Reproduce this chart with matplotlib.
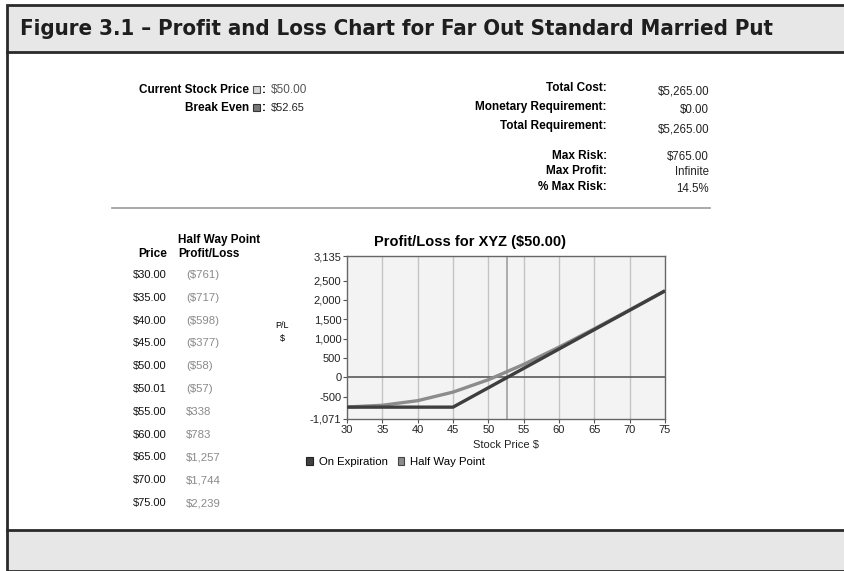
import matplotlib
matplotlib.use("Agg")
import matplotlib.pyplot as plt
from matplotlib import font_manager as fm
from matplotlib.patches import Rectangle, Patch
from matplotlib.lines import Line2D
from matplotlib.ticker import FuncFormatter

W, H = 845, 571

# data
prices = [30, 35, 40, 45, 50, 50.01, 55, 60, 65, 70, 75]
half_way_pl = [-761, -717, -598, -377, -58, -57, 338, 783, 1257, 1744, 2239]
expiration_pl = [-765, -765, -765, -765, -265, -264, 235, 735, 1235, 1735, 2235]
current_price = 50.00
break_even = 52.65
y_ticks = [-1071, -500, 0, 500, 1000, 1500, 2000, 2500, 3135]
x_ticks = [30, 35, 40, 45, 50, 55, 60, 65, 70, 75]

summary_labels = ["Total Cost:", "Monetary Requirement:", "Total Requirement:",
                  "Max Risk:", "Max Profit:", "% Max Risk:"]
summary_values = ["$5,265.00", "$0.00", "$5,265.00", "$765.00", "Infinite", "14.5%"]

plt.rcParams['font.family'] = ['Liberation Sans', 'DejaVu Sans']

# pick a narrow face for the header if one is installed
narrow = None
for f in fm.fontManager.ttflist:
    if 'Narrow' in f.name or 'Condensed' in f.name or f.stretch in ('condensed', 'semi-condensed'):
        if f.weight in ('bold', 700):
            narrow = f.fname
            break
title_font = fm.FontProperties(fname=narrow, weight='bold') if narrow else \
    fm.FontProperties(family='Liberation Sans', weight='bold')

fig = plt.figure(figsize=(W / 100, H / 100), dpi=100)


def fx(x):
    return x / W


def fy(y):
    return 1 - y / H


def txt(x, y, s, **kw):
    kw.setdefault('va', 'center')
    return fig.text(fx(x), fy(y), s, **kw)


# frame: header box, left border, bottom box
fig.patches.append(Rectangle((fx(7), fy(52)), fx(845 - 7), 47 / H, transform=fig.transFigure,
                             facecolor='#e6e7e6', edgecolor='#2a2a2a', lw=2))
fig.patches.append(Rectangle((fx(7), 0), fx(845 - 7), 41 / H, transform=fig.transFigure,
                             facecolor='#e6e7e6', edgecolor='#2a2a2a', lw=2))
fig.lines.append(Line2D([fx(7), fx(7)], [fy(52), fy(530)], transform=fig.transFigure,
                        color='#2a2a2a', lw=2))

head = txt(20, 29, "Figure 3.1 \u2013 Profit and Loss Chart for Far Out Standard Married Put",
           fontproperties=title_font, color='#1e1e1e')
head.set_fontsize(16.5)
r = fig.canvas.get_renderer()
w = head.get_window_extent(r).width
head.set_fontsize(min(16.5, 16.5 * 755 / w))

# top-left info
txt(249, 90, "Current Stock Price", ha='right', fontsize=8.5, weight='bold')
fig.patches.append(Rectangle((fx(253), fy(93)), 7 / W, 7 / H, transform=fig.transFigure,
                             facecolor='#d8d8d8', edgecolor='#555', lw=0.8))
txt(262, 90, ":", fontsize=8.5, weight='bold')
txt(271, 90, "$%.2f" % current_price, fontsize=8.5, color='#555')
txt(249, 108, "Break Even", ha='right', fontsize=8.5, weight='bold')
fig.patches.append(Rectangle((fx(253), fy(111)), 7 / W, 7 / H, transform=fig.transFigure,
                             facecolor='#777', edgecolor='#333', lw=0.8))
txt(262, 108, ":", fontsize=8.5, weight='bold')
txt(271, 108, "$%.2f" % break_even, fontsize=8, color='#222')

# top-right summary
label_y = [88, 107, 126, 156, 171, 187]
value_y = [91, 110, 129, 157, 172, 189]
for lab, val, ly, vy in zip(summary_labels, summary_values, label_y, value_y):
    txt(607, ly, lab, ha='right', fontsize=8.5, weight='bold')
    txt(709, vy, val, ha='right', fontsize=8.3, color='#222')

fig.lines.append(Line2D([fx(112), fx(710)], [fy(208), fy(208)], transform=fig.transFigure,
                        color='#9a9a9a', lw=1.2))

# left table
txt(178, 240, "Half Way Point", fontsize=8.5, weight='bold')
txt(138, 254, "Price", fontsize=8.5, weight='bold')
txt(178, 254, "Profit/Loss", fontsize=8.5, weight='bold')
for i, (p, v) in enumerate(zip(prices, half_way_pl)):
    y = 275 + i * 22.8
    txt(133, y, "$%.2f" % p, fontsize=8, color='#111')
    s = "(${:,})".format(-v) if v < 0 else "${:,}".format(v)
    txt(186, y, s, fontsize=8.2, color='#8a8a8a')

txt(282, 325, "P/L", ha='center', fontsize=6.5)
txt(282, 339, "$", ha='center', fontsize=6.5)

# chart
ax = fig.add_axes([fx(347), fy(419), (665 - 347) / W, (419 - 256) / H])
ax.set_facecolor('#f3f3f3')
for x in x_ticks[1:-1]:
    ax.axvline(x, color='#c4c4c4', lw=1, zorder=1)
ax.axvline(break_even, color='#a0a0a0', lw=1.2, zorder=1)
ax.axhline(0, color='#5a5a5a', lw=1.2, zorder=2)
ax.plot(prices, half_way_pl, color='#8c8c8c', lw=2.4, zorder=3, solid_capstyle='butt')
ax.plot(prices, expiration_pl, color='#3e3e3e', lw=2.4, zorder=4, solid_capstyle='butt')

ax.set_xlim(30, 75)
ax.set_ylim(-1071, 3135)
ax.set_xticks(x_ticks)
ax.set_yticks(y_ticks)
ax.yaxis.set_major_formatter(FuncFormatter(lambda v, p: "{:,}".format(int(v))))
ax.tick_params(labelsize=8, length=3, width=0.8, color='#555', pad=1, labelcolor='#222')
for s in ax.spines.values():
    s.set_color('#666')
    s.set_linewidth(1)
ax.set_xlabel("Stock Price $", fontsize=8, labelpad=4, color='#222')
txt(470, 242, "Profit/Loss for XYZ ($50.00)", ha='center', fontsize=10.5, weight='bold')

handles = [Patch(facecolor='#404040', edgecolor='#222', lw=0.8),
           Patch(facecolor='#8c8c8c', edgecolor='#444', lw=0.8)]
fig.legend(handles, ["On Expiration", "Half Way Point"], loc='center left',
           bbox_to_anchor=(fx(306), fy(462)), ncol=2, frameon=False, fontsize=8.2,
           handlelength=0.6, handleheight=0.6, handletextpad=0.5, columnspacing=0.9,
           borderpad=0, borderaxespad=0)

fig.savefig("out.png", dpi=100)
